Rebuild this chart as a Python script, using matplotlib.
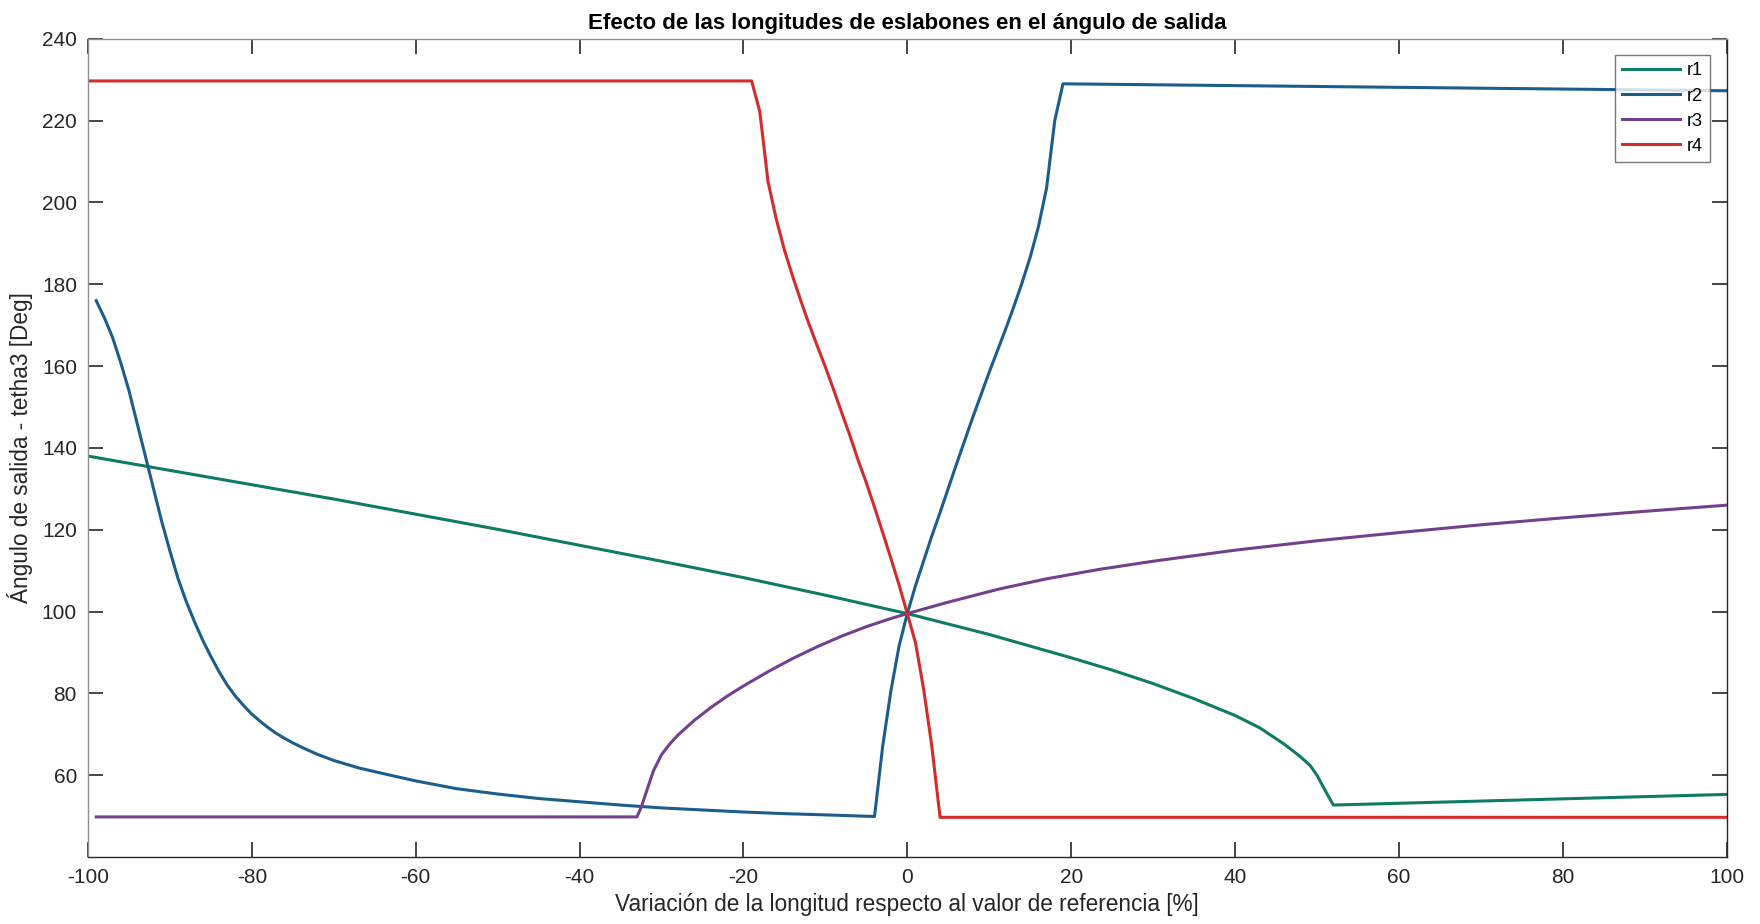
import numpy as np
import matplotlib.pyplot as plt

plt.rcParams['font.family'] = ['Liberation Sans', 'DejaVu Sans']
plt.rcParams['axes.unicode_minus'] = False

# Datos (variación % -> ángulo de salida en grados)
x_r1 = [-100, -90, -80, -70, -60, -50, -40, -30, -20, -10, 0, 10, 20, 25, 30, 35, 40, 43, 46, 48, 49.2, 50, 51, 52, 100]
y_r1 = [138, 134.5, 131, 127.5, 123.8, 120.1, 116.2, 112.3, 108.3, 104, 99.5, 94.4, 88.7, 85.7, 82.4, 78.7, 74.6,
        71.6, 67.6, 64.5, 62.3, 60, 56.3, 52.7, 55.3]

x_r2 = [-99, -98, -97, -96, -95, -94, -93, -92, -91, -90, -89, -88, -87, -86, -85, -84, -83, -82, -81, -80,
        -79, -78, -77, -76, -75, -74, -72, -70, -67, -64, -60, -55, -50, -45, -40, -35, -30, -25, -20, -15, -10, -4,
        -3, -2, -1, 0, 1, 2, 3, 4, 6, 8, 10, 12, 13, 14, 15, 16, 17, 18, 19, 100]
y_r2 = [176, 171.8, 167, 160.8, 154, 146, 138, 130, 122, 114.8, 108, 102.4, 97.5, 93, 89, 85.3, 82, 79.3, 77, 74.9,
        73.2, 71.6, 70.2, 69, 67.9, 66.9, 65.1, 63.6, 61.8, 60.4, 58.6, 56.7, 55.4, 54.3, 53.5, 52.7, 52, 51.5, 51,
        50.6, 50.3, 49.9,
        67.1, 80.6, 91.6, 99.5, 106.3, 112.4, 118.5, 124.2, 136, 147.5, 158.5, 169, 174.5, 180.3, 186.6, 194, 203.5,
        220, 229, 227.3]

x_r3 = [-99, -33, -32.5, -32, -31, -30, -29, -28, -26, -24, -22, -20, -17, -14, -11, -8, -5, -2, 0,
        5, 11.2, 17, 23.4, 30, 40, 50, 60, 70, 80, 90, 100]
y_r3 = [49.8, 49.8, 52, 55, 61, 65, 67.6, 69.8, 73.4, 76.5, 79.3, 81.8, 85.3, 88.5, 91.4, 94, 96.3, 98.3, 99.5,
        102.3, 105.5, 108, 110.3, 112.3, 115, 117.3, 119.3, 121.2, 122.9, 124.5, 126]

x_r4 = [-100, -19, -18, -17, -16, -15, -14, -13, -12, -11, -10, -9, -8, -7, -6, -5, -4, -3, -2, -1, 0,
        1, 2, 3, 4, 100]
y_r4 = [229.7, 229.7, 222.2, 205.1, 196, 188.4, 182, 176, 170.3, 165, 159.8, 154.3, 148.6, 143, 137, 131.5,
        125.5, 119.3, 113, 106.5, 99.5, 92.4, 81, 67, 49.7, 49.7]

series = [('r1', x_r1, y_r1, '#0f7b63'),
          ('r2', x_r2, y_r2, '#1b5e8c'),
          ('r3', x_r3, y_r3, '#71418f'),
          ('r4', x_r4, y_r4, '#d62b2b')]

fig = plt.figure(figsize=(17.6, 9.24), dpi=100)
ax = fig.add_axes([0.05, 0.0725, 0.931, 0.8855])

for nombre, xs, ys, color in series:
    ax.plot(xs, ys, color=color, lw=2.2, label=nombre)

ax.set_xlim(-100, 100)
ax.set_ylim(40, 240)
ax.set_xticks(np.arange(-100, 101, 20))
ax.set_yticks(np.arange(60, 241, 20))

ax.tick_params(direction='in', length=11, width=1.2, colors='#262626', labelsize=15,
               top=True, right=True, pad=8)
for lado in ['bottom', 'right']:
    ax.spines[lado].set_color('#262626')
    ax.spines[lado].set_linewidth(1.0)
for lado in ['left', 'top']:
    ax.spines[lado].set_color('#909090')
    ax.spines[lado].set_linewidth(1.0)

ax.set_title('Efecto de las longitudes de eslabones en el ángulo de salida',
             fontsize=16, fontweight='bold', pad=7)
ax.set_xlabel('Variación de la longitud respecto al valor de referencia [%]', fontsize=16.3,
              color='#262626', labelpad=4)
ax.set_ylabel('Ángulo de salida - tetha3 [Deg]', fontsize=16.3, color='#262626', labelpad=6)

leg = ax.legend(loc='upper right', bbox_to_anchor=(0.990, 0.980), borderaxespad=0,
                fontsize=13, handlelength=3.2, labelspacing=0.45, fancybox=False,
                borderpad=0.4, handletextpad=0.4)
leg.get_frame().set_edgecolor('#555555')
leg.get_frame().set_linewidth(1.0)

fig.savefig('out.png', dpi=100)
